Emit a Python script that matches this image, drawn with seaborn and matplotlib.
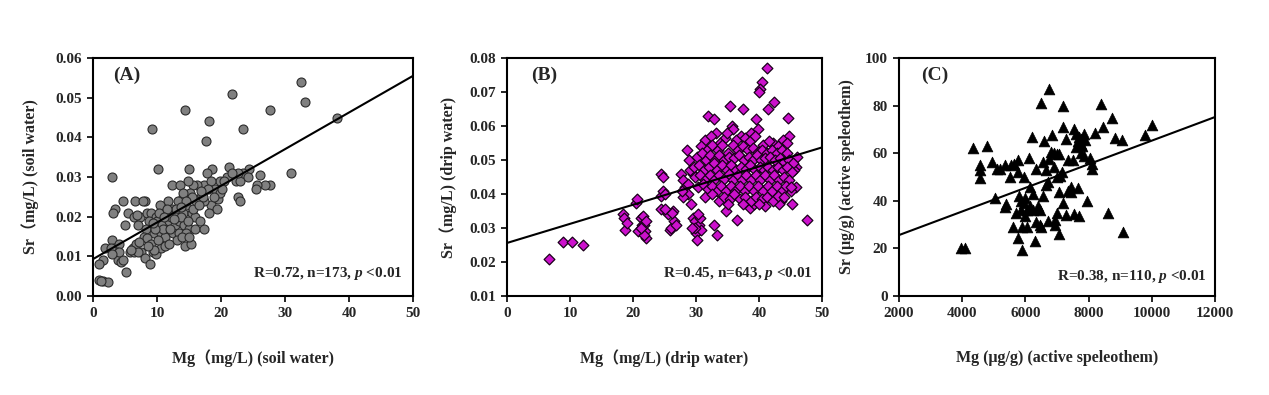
import matplotlib
matplotlib.use("Agg")
import matplotlib.pyplot as plt
import seaborn as sns
import pandas as pd

# ---------------- data ----------------
# Panel A: soil water (Mg mg/L, Sr mg/L)
a_points = [
    (32.5, 0.054), (33.2, 0.049), (21.7, 0.051), (14.4, 0.047), (27.6, 0.047), (18.2, 0.044),
    (38.2, 0.045), (9.2, 0.042), (23.5, 0.042), (17.6, 0.039), (3.0, 0.030), (10.2, 0.032),
    (15.0, 0.032), (18.6, 0.032), (21.2, 0.0325), (24.3, 0.032), (31.0, 0.031), (26.1, 0.0305),
    (27.7, 0.028), (26.9, 0.028), (25.6, 0.028), (25.4, 0.027), (22.6, 0.025), (22.9, 0.024),
    (19.6, 0.0245), (19.8, 0.029), (20.9, 0.030), (22.3, 0.029), (22.9, 0.029), (23.4, 0.031),
    (22.7, 0.031), (24.2, 0.030), (17.8, 0.031), (17.3, 0.028), (16.3, 0.028), (15.6, 0.028),
    (14.8, 0.029), (12.4, 0.028), (13.6, 0.028), (18.4, 0.029), (19.1, 0.027), (18.0, 0.027),
    (16.8, 0.025), (14.0, 0.025), (11.7, 0.024), (13.3, 0.024), (15.1, 0.026), (18.5, 0.023),
    (19.3, 0.022), (18.1, 0.021), (17.4, 0.024), (4.7, 0.024), (6.6, 0.024), (8.1, 0.024),
    (3.4, 0.022), (3.1, 0.021), (5.0, 0.018), (5.4, 0.021), (6.4, 0.020), (7.3, 0.020),
    (7.0, 0.018), (8.5, 0.021), (9.1, 0.021), (9.9, 0.020), (10.5, 0.023), (11.4, 0.021),
    (12.3, 0.022), (13.0, 0.022), (14.0, 0.021), (14.6, 0.023), (15.4, 0.021), (16.0, 0.020),
    (10.0, 0.019), (10.8, 0.018), (11.8, 0.019), (12.8, 0.018), (13.4, 0.019), (14.2, 0.018),
    (15.0, 0.017), (16.0, 0.017), (17.4, 0.017), (16.7, 0.019), (8.7, 0.019), (8.3, 0.017),
    (9.5, 0.016), (10.7, 0.016), (11.2, 0.015), (12.5, 0.016), (13.5, 0.016), (14.6, 0.016),
    (13.1, 0.014), (14.3, 0.0125), (15.3, 0.013), (7.9, 0.015), (8.4, 0.0145), (6.2, 0.012),
    (6.7, 0.013), (7.5, 0.011), (5.8, 0.011), (6.4, 0.011), (7.0, 0.011), (8.2, 0.0095),
    (8.9, 0.008), (9.3, 0.011), (9.8, 0.0105), (10.6, 0.012), (11.3, 0.0125), (9.0, 0.013),
    (3.0, 0.014), (3.3, 0.012), (4.1, 0.013), (3.7, 0.011), (3.9, 0.009), (4.4, 0.0085),
    (4.7, 0.009), (5.2, 0.006), (1.9, 0.012), (1.6, 0.009), (2.8, 0.012), (0.9, 0.008),
    (0.9, 0.004), (1.6, 0.0037), (2.4, 0.0035), (1.2, 0.0038), (7.8, 0.024), (12.2, 0.020),
    (11.0, 0.017), (12.9, 0.020), (13.7, 0.020), (14.9, 0.019), (15.7, 0.022), (16.1, 0.024),
    (17.2, 0.025), (15.5, 0.025), (14.1, 0.026), (9.7, 0.017), (10.2, 0.014), (11.9, 0.013),
    (12.0, 0.017), (13.9, 0.015), (15.0, 0.015), (10.3, 0.021), (11.6, 0.022), (14.6, 0.024),
    (16.5, 0.023), (19.9, 0.026), (20.5, 0.029), (21.7, 0.031), (9.6, 0.0115), (8.6, 0.0125),
    (5.9, 0.0115), (7.2, 0.0135), (4.0, 0.011), (2.9, 0.0105), (12.6, 0.0195), (13.8, 0.0225),
    (16.9, 0.0265), (18.9, 0.025), (20.2, 0.027), (11.1, 0.020), (9.4, 0.0185), (6.9, 0.0205),
]

# Panel B: drip water (Mg mg/L, Sr mg/L)
b_points = [
    (6.6, 0.021), (8.9, 0.026), (10.3, 0.026), (12.1, 0.025),
    (18.4, 0.034), (18.6, 0.033), (18.8, 0.0295), (19.1, 0.0315), (20.4, 0.0375), (20.7, 0.0385),
    (20.8, 0.029), (21.3, 0.033), (21.5, 0.031), (21.6, 0.0335), (21.9, 0.029), (21.8, 0.031),
    (22.1, 0.027), (21.7, 0.028), (21.2, 0.030), (22.0, 0.032),
    (24.4, 0.046), (24.8, 0.045), (24.4, 0.0395), (24.7, 0.041), (25.1, 0.040), (24.5, 0.0355),
    (25.5, 0.034), (25.8, 0.0295), (26.3, 0.035), (26.1, 0.030), (26.5, 0.032), (26.8, 0.031),
    (25.0, 0.0355), (26.2, 0.0345),
    (27.6, 0.046), (27.9, 0.044), (28.3, 0.042), (28.5, 0.053), (28.9, 0.050), (28.8, 0.043),
    (29.2, 0.037), (28.7, 0.040), (28.0, 0.039), (27.8, 0.041), (29.5, 0.046), (29.0, 0.047),
    (29.6, 0.033), (29.9, 0.032), (30.0, 0.0285), (30.1, 0.0265), (30.4, 0.031), (30.6, 0.033),
    (30.8, 0.0295), (29.8, 0.030), (30.3, 0.034), (29.4, 0.030),
    (32.8, 0.031), (33.3, 0.028), (34.8, 0.035), (36.5, 0.0325), (47.6, 0.0325),
    (41.3, 0.077), (40.4, 0.073), (40.2, 0.071), (40.0, 0.070), (42.4, 0.067), (35.4, 0.066),
    (37.4, 0.065), (41.5, 0.065), (31.9, 0.063), (32.9, 0.062), (44.6, 0.0625), (39.5, 0.062),
    (35.7, 0.060), (35.9, 0.059), (39.8, 0.059), (38.8, 0.058), (33.1, 0.058), (44.8, 0.057),
    (43.8, 0.056), (42.2, 0.055), (44.5, 0.055), (34.6, 0.0565), (37.2, 0.057),
    (46.0, 0.051), (45.9, 0.048), (45.8, 0.042), (45.3, 0.037), (45.0, 0.041), (45.6, 0.047),
    (44.2, 0.050), (43.5, 0.038), (43.1, 0.037), (41.0, 0.0365), (38.6, 0.036), (39.2, 0.037),
    (31.5, 0.056), (32.4, 0.057), (33.8, 0.055), (34.9, 0.058), (36.4, 0.056), (37.8, 0.0565),
    (38.5, 0.0555), (39.3, 0.057), (40.7, 0.0545), (41.6, 0.0555), (43.0, 0.054),
    (30.8, 0.054), (31.8, 0.053), (32.6, 0.0545), (33.5, 0.053), (34.2, 0.0545), (35.1, 0.052),
    (35.8, 0.0545), (36.7, 0.053), (37.5, 0.054), (38.2, 0.053), (39.0, 0.0535), (39.9, 0.0525),
    (40.5, 0.053), (41.2, 0.052), (42.1, 0.053), (42.9, 0.052), (43.7, 0.053), (44.4, 0.052),
    (30.2, 0.051), (31.0, 0.052), (31.6, 0.050), (32.3, 0.0515), (33.0, 0.050), (33.7, 0.0515),
    (34.5, 0.050), (35.3, 0.051), (36.0, 0.0505), (36.8, 0.0515), (37.6, 0.050), (38.4, 0.051),
    (39.1, 0.050), (39.7, 0.0515), (40.3, 0.050), (41.0, 0.0505), (41.8, 0.051), (42.6, 0.050),
    (43.3, 0.0505), (44.0, 0.0495), (44.8, 0.050), (45.4, 0.049),
    (29.7, 0.048), (30.5, 0.0485), (31.3, 0.047), (32.0, 0.048), (32.8, 0.049), (33.4, 0.047),
    (34.1, 0.0485), (34.9, 0.047), (35.6, 0.0485), (36.3, 0.047), (37.1, 0.048), (37.9, 0.0475),
    (38.6, 0.0485), (39.4, 0.047), (40.1, 0.048), (40.8, 0.047), (41.5, 0.048), (42.3, 0.047),
    (43.0, 0.048), (43.8, 0.047), (44.5, 0.048), (45.2, 0.0465),
    (29.9, 0.045), (30.7, 0.0455), (31.4, 0.044), (32.2, 0.0455), (32.9, 0.044), (33.6, 0.0455),
    (34.4, 0.0445), (35.2, 0.046), (35.9, 0.044), (36.6, 0.0455), (37.3, 0.044), (38.0, 0.0455),
    (38.8, 0.044), (39.5, 0.0455), (40.2, 0.044), (40.9, 0.0455), (41.7, 0.044), (42.4, 0.0455),
    (43.2, 0.044), (43.9, 0.045), (44.7, 0.044),
    (30.3, 0.042), (31.1, 0.043), (31.9, 0.0415), (32.6, 0.0425), (33.3, 0.041), (34.0, 0.0425),
    (34.7, 0.041), (35.5, 0.0425), (36.2, 0.041), (37.0, 0.0425), (37.7, 0.041), (38.4, 0.0425),
    (39.2, 0.041), (39.9, 0.0425), (40.6, 0.041), (41.4, 0.0425), (42.1, 0.041), (42.8, 0.0425),
    (43.6, 0.041), (44.3, 0.0425), (45.1, 0.042),
    (31.5, 0.039), (32.5, 0.040), (33.6, 0.038), (34.5, 0.039), (35.4, 0.0385), (36.1, 0.040),
    (37.0, 0.0385), (37.8, 0.039), (38.7, 0.038), (39.6, 0.039), (40.4, 0.0385), (41.3, 0.039),
    (42.2, 0.038), (43.0, 0.0395), (44.0, 0.039), (35.0, 0.037), (37.4, 0.037), (40.0, 0.037),
]

# Panel C: active speleothem (Mg ug/g, Sr ug/g)
c_points = [
    (3950, 20), (4080, 20), (4350, 62), (4800, 63), (4550, 55), (4550, 53), (4550, 49.5),
    (4950, 56.5), (5100, 53.5), (5050, 41), (5200, 53.5), (5350, 55), (5400, 38.5), (5350, 37.5),
    (5500, 50), (5550, 55), (5600, 29), (5650, 55.5), (5750, 57), (5750, 52), (5700, 35),
    (5750, 24.5), (5800, 42), (5850, 40), (5850, 36), (5900, 29), (5900, 19.5), (5950, 50),
    (5950, 39), (6000, 41), (6000, 33.5), (6050, 29), (6050, 36), (6100, 58), (6150, 38),
    (6150, 46), (6200, 67), (6250, 43), (6250, 36), (6300, 23), (6350, 53.5), (6400, 38),
    (6450, 36), (6450, 30), (6500, 29), (6500, 81), (6550, 42), (6550, 56.5), (6600, 65),
    (6650, 53), (6650, 46.5), (6700, 31.5), (6700, 48), (6750, 87), (6750, 57.5), (6800, 60.5),
    (6850, 67.5), (6900, 60), (6950, 32), (6950, 30), (7000, 35), (7000, 50), (7050, 59.5),
    (7050, 43.5), (7050, 26), (7100, 50.5), (7150, 52), (7200, 80), (7200, 71), (7200, 39),
    (7300, 34), (7300, 66), (7350, 57), (7450, 46), (7450, 43.5), (7500, 57), (7550, 70),
    (7550, 34.5), (7600, 62.5), (7650, 65), (7650, 45.5), (7700, 67), (7700, 33.5), (7750, 66),
    (7750, 64), (7800, 63), (7850, 68), (7850, 59), (7900, 65.5), (7950, 40), (8050, 58),
    (8100, 55.5), (8100, 53.5), (8200, 68.5), (8400, 80.5), (8450, 71), (8600, 35), (8750, 75),
    (8850, 66.5), (9050, 65.5), (9100, 27), (9800, 67.5), (10000, 72), (7600, 68), (7750, 60),
    (7350, 44), (6350, 31), (6900, 54), (7000, 59.5),
]

# regression lines (end points)
a_line_x = [0, 50]
a_line_y = [0.0093, 0.0555]
b_line_x = [0, 50]
b_line_y = [0.0256, 0.0537]
c_line_x = [2000, 12000]
c_line_y = [25.6, 75.2]

panel_tags = ["(A)", "(B)", "(C)"]
stats_text = [r"R=0.72, n=173, $p$ <0.01", r"R=0.45, n=643, $p$ <0.01", r"R=0.38, n=110, $p$ <0.01"]
x_labels = ["Mg\uff08mg/L) (soil water)", "Mg\uff08mg/L) (drip water)", "Mg (\u03bcg/g) (active speleothem)"]
y_labels = ["Sr\uff08mg/L) (soil water)", "Sr\uff08mg/L) (drip water)", "Sr (\u03bcg/g) (active speleothem)"]
x_ticks = [[0, 10, 20, 30, 40, 50], [0, 10, 20, 30, 40, 50], [2000, 4000, 6000, 8000, 10000, 12000]]
y_ticks = [[0.00, 0.01, 0.02, 0.03, 0.04, 0.05, 0.06],
           [0.01, 0.02, 0.03, 0.04, 0.05, 0.06, 0.07, 0.08],
           [0, 20, 40, 60, 80, 100]]
y_fmt = ["{:.2f}", "{:.2f}", "{:.0f}"]

# ---------------- style ----------------
sns.set_theme(style="white")
plt.rcParams["font.family"] = ["Liberation Serif", "Noto Sans CJK SC"]
plt.rcParams["font.weight"] = "bold"
plt.rcParams["mathtext.fontset"] = "custom"
plt.rcParams["mathtext.rm"] = "Liberation Serif:bold"
plt.rcParams["mathtext.it"] = "Liberation Serif:italic:bold"
plt.rcParams["axes.linewidth"] = 1.5
plt.rcParams["axes.edgecolor"] = "black"

W, H = 1269, 395
fig = plt.figure(figsize=(W / 100, H / 100), dpi=100)
fig.patch.set_facecolor("white")

ax_px = [(93, 320), (507, 315), (899, 316)]
top_px, bot_px = 58, 296
axes = []
for (l, w) in ax_px:
    ax = fig.add_axes([l / W, 1 - bot_px / H, w / W, (bot_px - top_px) / H])
    axes.append(ax)

dfa = pd.DataFrame(a_points, columns=["mg", "sr"])
dfb = pd.DataFrame(b_points, columns=["mg", "sr"])
dfc = pd.DataFrame(c_points, columns=["mg", "sr"])

sns.scatterplot(data=dfa, x="mg", y="sr", ax=axes[0], marker="o", s=42,
                color="#808080", edgecolor="#2a2a2a", linewidth=0.8, zorder=3)
sns.scatterplot(data=dfb, x="mg", y="sr", ax=axes[1], marker="D", s=30,
                color="#CC11CC", edgecolor="#1a001a", linewidth=0.9, zorder=3)
sns.scatterplot(data=dfc, x="mg", y="sr", ax=axes[2], marker="^", s=60,
                color="black", edgecolor="black", linewidth=0.5, zorder=3)

for ax, lx, ly in zip(axes, [a_line_x, b_line_x, c_line_x], [a_line_y, b_line_y, c_line_y]):
    sns.lineplot(x=lx, y=ly, ax=ax, color="black", linewidth=1.5, zorder=4)

xlims = [(0, 50), (0, 50), (2000, 12000)]
ylims = [(0, 0.06), (0.01, 0.08), (0, 100)]
ylab_x = [-0.17, -0.16, -0.14]
ann_pos = [(0.966, 0.08), (0.971, 0.08), (0.975, 0.067)]
tag_pos = [(0.062, 0.965), (0.076, 0.965), (0.07, 0.965)]

for i, ax in enumerate(axes):
    ax.set_xlim(*xlims[i])
    ax.set_ylim(*ylims[i])
    ax.set_xticks(x_ticks[i])
    ax.set_yticks(y_ticks[i])
    ax.set_xticklabels([str(t) for t in x_ticks[i]])
    ax.set_yticklabels([y_fmt[i].format(t) for t in y_ticks[i]])
    ax.tick_params(axis="both", direction="out", length=4, width=1.2, color="black",
                   labelsize=11, pad=4, bottom=True, left=True)
    for lab in ax.get_xticklabels() + ax.get_yticklabels():
        lab.set_fontweight("bold")
    for sp in ax.spines.values():
        sp.set_visible(True)
        sp.set_color("black")
        sp.set_linewidth(1.5)
    ax.set_xlabel(x_labels[i], fontsize=11.5, fontweight="bold")
    ax.set_ylabel(y_labels[i], fontsize=11.5, fontweight="bold")
    ax.xaxis.set_label_coords(0.5, -0.225)
    ax.yaxis.set_label_coords(ylab_x[i], 0.5)
    ax.text(tag_pos[i][0], tag_pos[i][1], panel_tags[i], transform=ax.transAxes,
            fontsize=14, fontweight="bold", ha="left", va="top")
    ax.text(ann_pos[i][0], ann_pos[i][1], stats_text[i], transform=ax.transAxes,
            fontsize=11, fontweight="bold", ha="right", va="baseline")
    ax.grid(False)

fig.savefig("out.png", dpi=100, facecolor="white")
